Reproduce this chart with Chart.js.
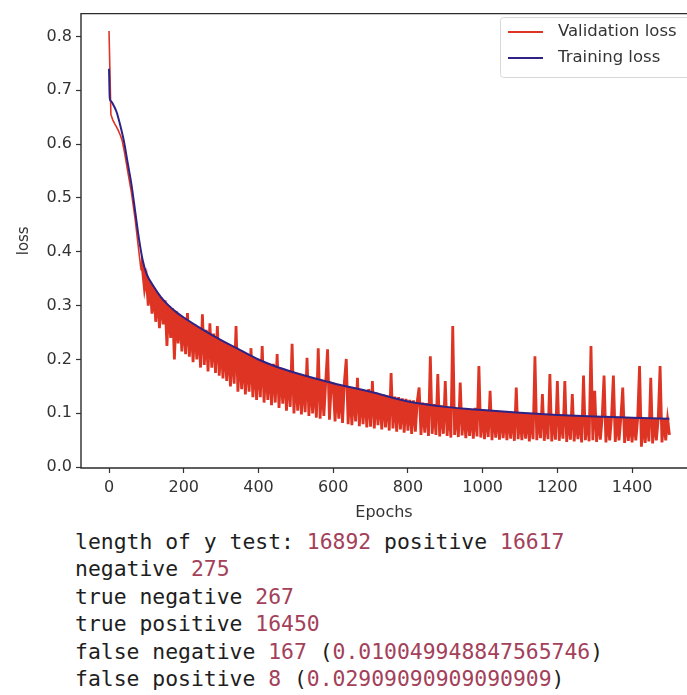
<!DOCTYPE html>
<html><head><meta charset="utf-8">
<script src="https://cdn.jsdelivr.net/npm/chart.js@4/dist/chart.umd.min.js"></script>
<style>
html,body{margin:0;padding:0;background:#fff;width:687px;height:695px;overflow:hidden}
#wrap{position:absolute;left:0;top:0;width:687px;height:528px}
#out{position:absolute;left:75px;top:528px;margin:0;font-family:'DejaVu Sans Mono',monospace;font-size:21.4px;line-height:27.4px;color:#1e1e1e;white-space:pre}
#out .n{color:#a3405a}
</style></head><body>
<div id="wrap"><canvas id="c" width="687" height="528"></canvas></div>
<pre id="out">length of y test: <span class="n">16892</span> positive <span class="n">16617</span>
negative <span class="n">275</span>
true negative <span class="n">267</span>
true positive <span class="n">16450</span>
false negative <span class="n">167</span> (<span class="n">0.010049948847565746</span>)
false positive <span class="n">8</span> (<span class="n">0.02909090909090909</span>)</pre>
<script>
const xTicks = [0, 200, 400, 600, 800, 1000, 1200, 1400];
const yTicks = [0.0, 0.1, 0.2, 0.3, 0.4, 0.5, 0.6, 0.7, 0.8];

const trainEpochs = [0, 2, 5, 10, 20, 30, 40, 50, 60, 70, 80, 90, 100, 120, 140, 160, 180, 200, 250, 300, 350, 400, 450, 500, 600, 700, 800, 900, 1000, 1100, 1200, 1300, 1400, 1500];
const trainLoss = [0.74, 0.685, 0.68, 0.675, 0.66, 0.635, 0.605, 0.565, 0.525, 0.475, 0.425, 0.385, 0.36, 0.335, 0.315, 0.30, 0.288, 0.278, 0.256, 0.236, 0.218, 0.20, 0.186, 0.175, 0.156, 0.14, 0.122, 0.112, 0.106, 0.101, 0.097, 0.094, 0.092, 0.09];

// validation loss sampled every 5 epochs (epoch 0 .. 1500)
const valStep = 5;
const valLoss = [
0.81, 0.655, 0.645, 0.638, 0.632, 0.625, 0.617, 0.607, 0.59, 0.57, 0.55, 0.53, 0.51, 0.485, 0.46, 0.43, 0.40, 0.37, 0.365, 0.33,
0.35, 0.30, 0.34, 0.285, 0.33, 0.27, 0.322, 0.258, 0.315, 0.265, 0.31, 0.225, 0.30, 0.24, 0.295, 0.20, 0.29, 0.23, 0.28, 0.215,
0.275, 0.21, 0.286, 0.205, 0.268, 0.195, 0.265, 0.20, 0.26, 0.185, 0.284, 0.19, 0.255, 0.178, 0.267, 0.185, 0.248, 0.175, 0.262, 0.17,
0.235, 0.165, 0.23, 0.16, 0.225, 0.15, 0.222, 0.155, 0.262, 0.14, 0.215, 0.145, 0.21, 0.135, 0.208, 0.14, 0.221, 0.13, 0.203, 0.125,
0.20, 0.13, 0.225, 0.12, 0.195, 0.125, 0.19, 0.115, 0.192, 0.12, 0.21, 0.11, 0.185, 0.118, 0.182, 0.105, 0.18, 0.112, 0.229, 0.10,
0.174, 0.105, 0.17, 0.098, 0.168, 0.102, 0.203, 0.095, 0.165, 0.10, 0.162, 0.092, 0.221, 0.09, 0.16, 0.095, 0.158, 0.219, 0.088, 0.156,
0.155, 0.085, 0.152, 0.09, 0.15, 0.082, 0.158, 0.201, 0.08, 0.148, 0.078, 0.146, 0.085, 0.166, 0.076, 0.143, 0.08, 0.142, 0.074, 0.145,
0.075, 0.16, 0.072, 0.138, 0.078, 0.136, 0.07, 0.135, 0.074, 0.133, 0.068, 0.175, 0.072, 0.131, 0.066, 0.13, 0.07, 0.128, 0.064, 0.127,
0.068, 0.125, 0.062, 0.124, 0.066, 0.122, 0.148, 0.06, 0.12, 0.064, 0.119, 0.058, 0.206, 0.062, 0.117, 0.06, 0.173, 0.057, 0.115, 0.062,
0.16, 0.058, 0.112, 0.055, 0.262, 0.06, 0.11, 0.056, 0.157, 0.059, 0.109, 0.054, 0.108, 0.058, 0.107, 0.053, 0.11, 0.057, 0.188, 0.055,
0.106, 0.052, 0.105, 0.056, 0.142, 0.05, 0.104, 0.055, 0.103, 0.051, 0.104, 0.054, 0.102, 0.05, 0.103, 0.053, 0.102, 0.049, 0.148, 0.052,
0.101, 0.05, 0.10, 0.053, 0.101, 0.048, 0.10, 0.052, 0.206, 0.05, 0.099, 0.054, 0.136, 0.049, 0.098, 0.052, 0.173, 0.048, 0.098, 0.051,
0.16, 0.049, 0.097, 0.053, 0.16, 0.047, 0.096, 0.051, 0.136, 0.048, 0.096, 0.052, 0.095, 0.046, 0.17, 0.05, 0.095, 0.048, 0.225, 0.05,
0.142, 0.047, 0.094, 0.051, 0.093, 0.17, 0.046, 0.093, 0.05, 0.093, 0.17, 0.047, 0.092, 0.05, 0.092, 0.148, 0.045, 0.092, 0.049, 0.091,
0.046, 0.091, 0.05, 0.091, 0.188, 0.038, 0.09, 0.045, 0.09, 0.048, 0.166, 0.044, 0.09, 0.05, 0.09, 0.188, 0.046, 0.09, 0.05, 0.089, 0.06
];

const valData = valLoss.map((v, i) => ({x: i * valStep, y: v}));
const trainData = trainLoss.map((v, i) => ({x: trainEpochs[i], y: v}));

const FONT = 'DejaVu Sans';
const TXT = '#333';
const RED = '#de3424';
const NAVY = '#2c2385';
const NOISY_FROM = 85; // epoch from which validation becomes a dense noisy band

const framePlugin = {
  id: 'frame',
  afterDatasetsDraw(chart) {
    const {ctx, chartArea: a} = chart;
    ctx.save();
    ctx.strokeStyle = '#2b2b2b';
    ctx.lineWidth = 1.4;
    ctx.beginPath();
    ctx.moveTo(a.right + 2, a.top);
    ctx.lineTo(a.left, a.top);
    ctx.lineTo(a.left, a.bottom);
    ctx.lineTo(a.right + 2, a.bottom);
    ctx.stroke();
    ctx.restore();
  }
};

const legendPlugin = {
  id: 'mplLegend',
  afterDraw(chart) {
    const {ctx} = chart;
    ctx.save();
    const x0 = 500.5, y0 = 17.5, w = 200, h = 60, r = 3;
    ctx.beginPath();
    ctx.roundRect(x0, y0, w, h, r);
    ctx.fillStyle = 'rgba(255,255,255,0.85)';
    ctx.fill();
    ctx.strokeStyle = '#d8d8d8';
    ctx.lineWidth = 1;
    ctx.stroke();
    chart.data.datasets.forEach((ds, i) => {
      const y = 32 + i * 26;
      ctx.strokeStyle = ds.borderColor;
      ctx.lineWidth = 2;
      ctx.beginPath();
      ctx.moveTo(508, y);
      ctx.lineTo(543, y);
      ctx.stroke();
      ctx.fillStyle = TXT;
      ctx.font = '16.5px "' + FONT + '"';
      ctx.textBaseline = 'middle';
      ctx.textAlign = 'left';
      ctx.fillText(ds.label, 558, y);
    });
    ctx.restore();
  }
};

new Chart(document.getElementById('c'), {
  type: 'line',
  data: {
    datasets: [
      {label: 'Validation loss', data: valData, borderColor: RED, borderWidth: 2.8, pointRadius: 0, tension: 0, order: 1,
       borderJoinStyle: 'miter',
       fill: {target: 1, below: RED, above: RED},
       segment: {
         borderWidth: c => c.p0.parsed.x < NOISY_FROM ? 1.6 : 2.8,
         backgroundColor: c => c.p0.parsed.x < NOISY_FROM ? 'rgba(0,0,0,0)' : RED
       }},
      {label: 'Training loss', data: trainData, borderColor: NAVY, borderWidth: 2, pointRadius: 0, cubicInterpolationMode: 'monotone', order: 0, fill: false}
    ]
  },
  options: {
    responsive: false,
    animation: false,
    devicePixelRatio: 1,
    layout: {padding: {top: 10, left: 0, right: 0, bottom: 0}},
    plugins: {legend: {display: false}, tooltip: {enabled: false}, filler: {propagate: false}},
    scales: {
      x: {
        type: 'linear', min: -75, max: 1547,
        afterBuildTicks: s => { s.ticks = xTicks.map(v => ({value: v})); },
        afterFit: s => { s.height = 60; },
        ticks: {font: {family: FONT, size: 16}, color: TXT, padding: 5, maxRotation: 0, autoSkip: false, callback: v => String(v)},
        grid: {drawOnChartArea: false, drawTicks: true, tickLength: 5, color: '#333', tickWidth: 1.2},
        border: {display: false},
        title: {display: true, text: 'Epochs', font: {family: FONT, size: 16}, color: TXT, padding: {top: 0, bottom: 6}}
      },
      y: {
        type: 'linear', min: -0.0015, max: 0.8423,
        afterBuildTicks: s => { s.ticks = yTicks.map(v => ({value: v})); },
        afterFit: s => { s.width = 81; },
        ticks: {font: {family: FONT, size: 16}, color: TXT, padding: 4, callback: v => v.toFixed(1)},
        grid: {drawOnChartArea: false, drawTicks: true, tickLength: 5, color: '#333', tickWidth: 1.2},
        border: {display: false},
        title: {display: true, text: 'loss', font: {family: FONT, size: 15}, color: TXT, padding: {top: 15, bottom: 0}}
      }
    }
  },
  plugins: [framePlugin, legendPlugin]
});
</script>
</body></html>
